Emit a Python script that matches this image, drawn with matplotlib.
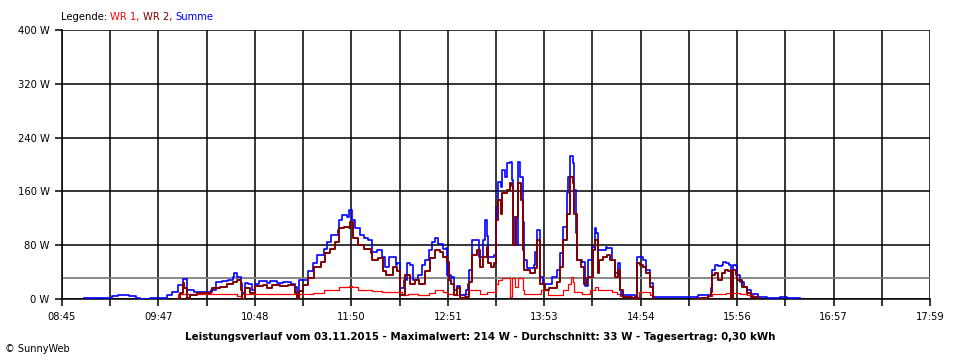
import numpy as np
import matplotlib.pyplot as plt

# Summe (blue)
sum_times = ["08:59", "09:09", "09:17", "09:21", "09:28", "09:32", "09:35", "09:41", "09:44", "09:48",
             "09:52", "09:55", "09:59", "10:02", "10:05", "10:09", "10:16", "10:20", "10:23", "10:27",
             "10:31", "10:34", "10:35", "10:37", "10:39", "10:40", "10:42", "10:44", "10:46", "10:48",
             "10:51", "10:56", "10:58", "11:02", "11:06", "11:11", "11:14", "11:15", "11:16", "11:19",
             "11:22", "11:25", "11:28", "11:32", "11:34", "11:37", "11:41", "11:42", "11:44", "11:47",
             "11:48", "11:50", "11:52", "11:55", "11:58", "12:00", "12:03", "12:06", "12:09", "12:11",
             "12:14", "12:18", "12:19", "12:21", "12:23", "12:25", "12:27", "12:29", "12:32", "12:35",
             "12:37", "12:39", "12:41", "12:43", "12:45", "12:48", "12:50", "12:51", "12:53", "12:54",
             "12:55", "12:57", "12:59", "13:01", "13:03", "13:04", "13:05", "13:07", "13:10", "13:11",
             "13:13", "13:14", "13:15", "13:16", "13:17", "13:19", "13:21", "13:22", "13:23", "13:25",
             "13:26", "13:28", "13:29", "13:31", "13:32", "13:33", "13:34", "13:36", "13:37", "13:39",
             "13:40", "13:42", "13:46", "13:47", "13:48", "13:50", "13:52", "13:55", "13:58", "14:01",
             "14:03", "14:05", "14:07", "14:08", "14:09", "14:11", "14:12", "14:13", "14:14", "14:17",
             "14:19", "14:21", "14:23", "14:25", "14:26", "14:27", "14:30", "14:32", "14:33", "14:36",
             "14:38", "14:40", "14:41", "14:42", "14:49", "14:51", "14:52", "14:54", "14:56", "14:58",
             "15:00", "15:02", "15:30", "15:31", "15:37", "15:39", "15:40", "15:42", "15:44", "15:46",
             "15:47", "15:49", "15:51", "15:52", "15:53", "15:55", "15:56", "15:58", "16:00", "16:02",
             "16:05", "16:09", "16:15", "16:23", "16:28", "16:34", "16:36"]
sum_w = [1, 2, 5, 6, 5, 2, 0, 1, 1, 2,
         6, 11, 21, 29, 13, 10, 10, 13, 25, 27,
         28, 33, 38, 33, 24, 9, 24, 22, 13, 23,
         27, 24, 27, 24, 25, 22, 18, 3, 28, 28,
         41, 53, 65, 75, 85, 95, 103, 117, 125, 122,
         132, 117, 105, 95, 90, 88, 70, 73, 63, 48,
         63, 51, 53, 16, 28, 53, 50, 28, 36, 51,
         58, 73, 85, 90, 82, 75, 76, 36, 31, 33,
         13, 19, 6, 6, 13, 23, 43, 88, 88, 63,
         62, 88, 117, 93, 63, 62, 65, 137, 174, 167,
         192, 182, 202, 204, 177, 122, 80, 204, 182, 115,
         58, 46, 51, 70, 103, 33, 23, 22, 33, 43,
         68, 107, 157, 182, 212, 202, 162, 98, 58, 55,
         20, 58, 78, 105, 98, 73, 73, 78, 76, 58,
         38, 53, 13, 6, 6, 3, 63, 62, 58, 43,
         24, 3, 2, 6, 6, 16, 43, 51, 49, 51,
         55, 53, 51, 1, 51, 49, 36, 26, 18, 13,
         8, 3, 2, 3, 2, 1, np.nan]

# WR 2 (dark red)
wr2_times = ["09:58", "10:00", "10:02", "10:03", "10:05", "10:07", "10:11", "10:20", "10:21", "10:26",
             "10:30", "10:34", "10:37", "10:39", "10:40", "10:42", "10:45", "10:48", "10:53", "10:56",
             "10:59", "11:04", "11:09", "11:14", "11:15", "11:16", "11:19", "11:22", "11:26", "11:30",
             "11:33", "11:36", "11:39", "11:42", "11:45", "11:48", "11:49", "11:51", "11:54", "11:58",
             "12:02", "12:03", "12:07", "12:10", "12:12", "12:16", "12:19", "12:21", "12:24", "12:27",
             "12:30", "12:33", "12:37", "12:40", "12:43", "12:46", "12:48", "12:51", "12:52", "12:53",
             "12:55", "12:57", "12:59", "13:02", "13:05", "13:07", "13:10", "13:12", "13:14", "13:16",
             "13:17", "13:19", "13:21", "13:22", "13:23", "13:25", "13:26", "13:29", "13:31", "13:32",
             "13:33", "13:35", "13:36", "13:38", "13:39", "13:40", "13:44", "13:47", "13:48", "13:50",
             "13:53", "13:56", "14:01", "14:03", "14:05", "14:07", "14:09", "14:11", "14:12", "14:14",
             "14:16", "14:18", "14:20", "14:21", "14:24", "14:25", "14:27", "14:28", "14:30", "14:33",
             "14:35", "14:38", "14:40", "14:41", "14:43", "14:49", "14:52", "14:54", "14:56", "14:58",
             "15:00", "15:02", "15:03",
             "15:28", "15:32", "15:37", "15:39", "15:40", "15:42", "15:44", "15:46", "15:48", "15:50",
             "15:52", "15:53", "15:55", "15:56", "15:59", "16:02", "16:05", "16:09"]
wr2_w = [0, 9, 24, 16, 1, 6, 9, 10, 17, 18,
         22, 26, 28, 13, 0, 16, 9, 19, 21, 16,
         21, 19, 21, 9, 0, 12, 21, 31, 48, 55,
         68, 75, 85, 105, 107, 105, 115, 90, 80, 75,
         68, 58, 61, 41, 36, 48, 41, 6, 36, 23,
         28, 23, 41, 61, 73, 70, 63, 55, 28, 23,
         6, 16, 1, 3, 26, 65, 73, 48, 63, 78,
         53, 48, 53, 117, 147, 127, 157, 162, 172, 168,
         80, 122, 172, 147, 73, 43, 38, 46, 88, 23,
         13, 16, 26, 48, 88, 127, 182, 172, 127, 58,
         48, 23, 31, 33, 73, 88, 38, 58, 63, 65,
         58, 33, 43, 13, 3, 1, 53, 51, 48, 38,
         18, 0, np.nan,
         0, 1, 4, 11, 36, 38, 28, 38, 43, 41,
         0, 43, 36, 28, 18, 9, 3, 0]

# WR 1 (red)
wr1_times = ["09:58", "09:59", "10:16", "10:20", "10:37", "10:39", "11:15", "11:16", "11:25", "11:32",
             "11:37", "11:42", "11:48", "11:50", "11:54", "12:03", "12:09", "12:18", "12:22", "12:26",
             "12:32", "12:39", "12:43", "12:48", "12:51", "12:56", "13:01", "13:05", "13:12", "13:16",
             "13:20", "13:22", "13:23", "13:26", "13:30", "13:31", "13:32", "13:34", "13:36", "13:39",
             "13:40", "13:48", "13:51", "13:55", "14:01", "14:05", "14:08", "14:10", "14:11", "14:12",
             "14:17", "14:22", "14:25", "14:27", "14:36", "14:39", "14:41", "14:43", "14:51", "14:53",
             "14:58", "15:00", "15:02", "15:03",
             "15:28", "15:35", "15:37", "15:40", "15:45", "15:49", "15:58", "16:02", "16:06", "16:09"]
wr1_w = [0, 7, 7, 8, 5, 8, 3, 7, 9, 13,
         14, 18, 20, 18, 14, 12, 11, 10, 6, 8,
         6, 9, 13, 11, 8, 6, 8, 13, 8, 10,
         10, 23, 28, 31, 31, 3, 31, 18, 31, 13,
         7, 8, 13, 6, 6, 13, 23, 33, 26, 10,
         8, 13, 18, 13, 10, 8, 4, 3, 3, 11,
         10, 6, 0, np.nan,
         1, 3, 5, 7, 8, 9, 8, 6, 3, 0]

avg_line = 31
y_ticks = [0, 80, 160, 240, 320, 400]
t_start, t_end = "08:45", "17:59"
title = ("Leistungsverlauf vom 03.11.2015 - Maximalwert: 214 W - "
         "Durchschnitt: 33 W - Tagesertrag: 0,30 kWh")


def to_min(s):
    h, m = s.split(":")
    return int(h) * 60 + int(m)


def fmt(v):
    v = int(round(v))
    return "%02d:%02d" % (v // 60, v % 60)


x0, x1 = to_min(t_start), to_min(t_end)

fig = plt.figure(figsize=(9.6, 3.6), dpi=100)
ax = fig.add_axes([62 / 960, 1 - 299 / 360, 868 / 960, 269 / 360])

ax.axhline(avg_line, color="#808080", lw=1.3, zorder=2)
ax.plot([to_min(t) for t in wr1_times], wr1_w, color="#ff0000", lw=0.9,
        drawstyle="steps-post", zorder=3)
ax.plot([to_min(t) for t in sum_times], sum_w, color="#0000ff", lw=1.2,
        drawstyle="steps-post", zorder=4)
ax.plot([to_min(t) for t in wr2_times], wr2_w, color="#800000", lw=1.4,
        drawstyle="steps-post", zorder=5)

ax.set_xlim(x0, x1)
ax.set_ylim(0, 400)
xt = np.linspace(x0, x1, 19)
ax.set_xticks(xt)
ax.set_xticklabels([fmt(v) if i % 2 == 0 else "" for i, v in enumerate(xt)])
ax.set_yticks(y_ticks)
ax.set_yticklabels(["%d W" % v for v in y_ticks])
ax.grid(True, color="black", lw=1.1, zorder=1)
ax.set_axisbelow(True)
ax.tick_params(length=5, width=1.1, color="black", labelsize=7.2, pad=4)
for s in ax.spines.values():
    s.set_color("black")
    s.set_linewidth(1.1)
ax.spines["top"].set_visible(False)
ax.spines["right"].set_visible(False)

# legend line on top
lx, ly = 61 / 960, 1 - 17 / 360
parts = [("Legende: ", "black"), ("WR 1, ", "#ff0000"), ("WR 2, ", "#800000"), ("Summe", "#0000ff")]
t = fig.text(lx, ly, parts[0][0], color=parts[0][1], fontsize=7.2, va="center")
for txt, col in parts[1:]:
    t = ax.annotate(txt, xycoords=t, xy=(1, 0), va="bottom", color=col, fontsize=7.2,
                    annotation_clip=False)

fig.text(480 / 960, 1 - 337 / 360, title, ha="center", va="center", fontsize=7.4,
         fontweight="bold")
fig.text(5 / 960, 1 - 349 / 360, "© SunnyWeb", ha="left", va="center", fontsize=7)

fig.savefig("out.png", dpi=100)
